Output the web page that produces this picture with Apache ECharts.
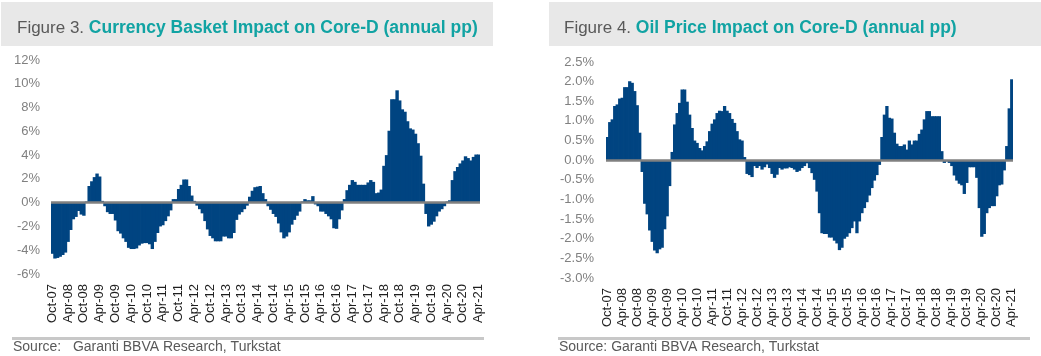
<!DOCTYPE html>
<html>
<head>
<meta charset="utf-8">
<script src="https://cdn.jsdelivr.net/npm/echarts@6/dist/echarts.min.js"></script>
<style>
html,body{margin:0;padding:0;background:#fff;}
#chart{width:1041px;height:356px;}
</style>
</head>
<body>
<div id="chart"></div>
<script>
// ---- Data ----
const startYear = 2007, startMonth = 9, monthCount = 163; // Oct-07 .. Apr-21
const monthNames = ['Jan','Feb','Mar','Apr','May','Jun','Jul','Aug','Sep','Oct','Nov','Dec'];
const categories = [];
for (let k = 0; k < monthCount; k++) {
  const m = (startMonth + k) % 12;
  const y = startYear + Math.floor((startMonth + k) / 12);
  categories.push(monthNames[m] + '-' + String(y % 100).padStart(2, '0'));
}

const currencyImpact = [
  -4.3,-4.7,-4.65,-4.55,-4.4,-4.2,-3.3,-2.3,-1.4,-1.2,
  -0.7,-1.0,-1.1,0.1,1.4,1.8,2.15,2.45,2.2,0.15,
  -0.3,-0.8,-0.95,-0.95,-1.5,-2.4,-2.6,-3.0,-3.3,-3.8,
  -3.9,-3.9,-3.85,-3.6,-3.45,-3.4,-3.4,-3.5,-3.9,-3.3,
  -2.55,-2.0,-1.9,-1.55,-1.15,-0.65,0.3,0.3,1.15,1.5,
  1.95,1.95,1.4,0.6,0.15,-0.25,-0.55,-0.9,-1.55,-2.25,
  -2.8,-3.0,-3.25,-3.25,-3.25,-2.85,-2.85,-3.0,-3.0,-2.55,
  -1.45,-1.0,-0.8,-0.55,-0.25,0.5,1.0,1.3,1.35,1.4,
  0.8,0.3,-0.3,-0.6,-0.95,-1.2,-1.75,-2.5,-3.0,-2.85,
  -2.5,-1.85,-1.45,-1.1,-0.75,0.1,0.3,0.2,0.2,0.55,
  -0.15,-0.3,-0.75,-0.75,-0.95,-1.15,-1.4,-2.15,-2.2,-1.4,
  -0.65,0.3,1.05,1.5,1.9,1.75,1.5,1.5,1.5,1.5,
  1.7,1.9,1.75,0.8,0.85,1.1,3.1,4.0,6.05,8.7,
  8.7,9.45,8.6,7.85,7.65,6.85,6.25,6.15,5.8,5.0,
  3.95,1.6,-0.95,-2.0,-1.85,-1.6,-1.15,-0.75,-0.55,-0.3,
  0.1,0.2,1.9,2.65,3.0,3.3,3.55,3.9,3.75,3.55,
  3.85,4.05,4.05
];

const oilImpact = [
  0.59,0.97,1.04,1.38,1.42,1.57,1.59,1.86,1.86,2.01,
  1.97,1.76,1.40,0.70,-0.30,-1.11,-1.38,-1.79,-2.08,-2.30,
  -2.37,-2.27,-2.23,-1.76,-1.43,-0.66,0.21,0.91,1.2,1.46,
  1.80,1.80,1.49,1.16,0.82,0.50,0.44,0.31,0.25,0.36,
  0.48,0.74,0.93,1.04,1.2,1.26,1.25,1.38,1.26,1.2,
  1.05,0.95,0.74,0.53,0.5,0.08,-0.35,-0.38,-0.43,-0.15,
  -0.2,-0.15,-0.24,-0.18,-0.11,-0.2,-0.35,-0.45,-0.37,-0.2,
  -0.24,-0.21,-0.21,-0.18,-0.2,-0.24,-0.3,-0.27,-0.2,-0.15,
  -0.08,-0.2,-0.33,-0.5,-0.8,-1.35,-1.86,-1.88,-1.88,-1.97,
  -1.97,-2.05,-2.12,-2.29,-2.23,-2.0,-1.95,-1.86,-1.73,-1.56,
  -1.86,-1.56,-1.35,-1.22,-1.07,-0.9,-0.71,-0.52,-0.38,-0.12,
  0.59,1.16,1.38,1.08,1.06,0.7,0.42,0.36,0.36,0.4,
  0.27,0.5,0.4,0.5,0.5,0.67,0.78,1.04,1.25,1.25,
  1.12,1.12,1.12,1.12,0.23,-0.07,-0.03,-0.07,-0.15,-0.39,
  -0.52,-0.6,-0.64,-0.86,-0.58,-0.18,-0.18,-0.18,-0.45,-1.22,
  -1.95,-1.88,-1.35,-1.22,-1.17,-1.17,-0.92,-0.64,-0.62,-0.26,
  0.36,1.32,2.06
];

const leftTitlePrefix = 'Figure 3. ';
const leftTitle = 'Currency Basket Impact on Core-D (annual pp)';
const rightTitlePrefix = 'Figure 4. ';
const rightTitle = 'Oil Price Impact on Core-D (annual pp)';
const leftSource = 'Source:   Garanti BBVA Research, Turkstat';
const rightSource = 'Source: Garanti BBVA Research, Turkstat';

// ---- Styles ----
const FONT = '"Liberation Sans", Arial, Helvetica, sans-serif';
const BAR = '#004481';
const TEAL = '#11A3A3';

function titleCfg(left, prefix, txt) {
  return {
    left: left, top: 13,
    text: '{a|' + prefix + '}{b|' + txt + '}',
    textStyle: {
      rich: {
        a: { fontFamily: FONT, fontSize: 17, color: '#595959', fontWeight: 'normal', lineHeight: 20 },
        b: { fontFamily: FONT, fontSize: 17.5, color: TEAL, fontWeight: 'bold', lineHeight: 20 }
      }
    }
  };
}

function xAxisCfg(gridIndex) {
  return {
    type: 'category', gridIndex: gridIndex, data: categories,
    position: 'bottom',
    axisLine: { show: false, onZero: false },
    axisTick: { show: false },
    splitLine: { show: false },
    axisLabel: {
      interval: 5, rotate: 90, margin: 10,
      fontFamily: FONT, fontSize: 13, color: '#1f1f1f'
    }
  };
}

function zeroLine() {
  return {
    silent: true, symbol: ['none', 'none'], animation: false,
    label: { show: false },
    lineStyle: { color: '#808080', width: 2.5, type: 'solid' },
    data: [{ yAxis: 0 }]
  };
}

const chart = echarts.init(document.getElementById('chart'), null, { renderer: 'canvas' });
chart.setOption({
  animation: false,
  backgroundColor: '#ffffff',
  title: [
    titleCfg(12, leftTitlePrefix, leftTitle),
    titleCfg(559, rightTitlePrefix, rightTitle)
  ],
  graphic: [
    { type: 'rect', z: -10, shape: { x: 1, y: 2, width: 492, height: 44 }, style: { fill: '#E8E8E8' } },
    { type: 'rect', z: -10, shape: { x: 549, y: 2, width: 492, height: 44 }, style: { fill: '#E8E8E8' } },
    { type: 'rect', z: -10, shape: { x: 12, y: 337, width: 472, height: 3 }, style: { fill: '#C8C8C8' } },
    { type: 'rect', z: -10, shape: { x: 558, y: 337, width: 472, height: 3 }, style: { fill: '#C8C8C8' } },
    { type: 'text', x: 13, y: 347, style: { text: leftSource, fontFamily: FONT, fontSize: 14, fill: '#595959', textVerticalAlign: 'middle' } },
    { type: 'text', x: 559, y: 347, style: { text: rightSource, fontFamily: FONT, fontSize: 14, fill: '#595959', textVerticalAlign: 'middle' } }
  ],
  grid: [
    { left: 51, top: 60, width: 429, height: 214 },
    { left: 606, top: 62, width: 407, height: 216 }
  ],
  xAxis: [xAxisCfg(0), xAxisCfg(1)],
  yAxis: [
    {
      type: 'value', gridIndex: 0, min: -6, max: 12, interval: 2,
      axisLine: { show: false }, axisTick: { show: false }, splitLine: { show: false },
      axisLabel: { margin: 11, fontFamily: FONT, fontSize: 13, color: '#808080', formatter: v => v + '%' }
    },
    {
      type: 'value', gridIndex: 1, min: -3, max: 2.5, interval: 0.5,
      axisLine: { show: false }, axisTick: { show: false }, splitLine: { show: false },
      axisLabel: { margin: 12, fontFamily: FONT, fontSize: 13, color: '#808080', formatter: v => v.toFixed(1) + '%' }
    }
  ],
  series: [
    {
      type: 'bar', xAxisIndex: 0, yAxisIndex: 0, data: currencyImpact,
      barWidth: 3.4,
      itemStyle: { color: BAR },
      markLine: zeroLine()
    },
    {
      type: 'bar', xAxisIndex: 1, yAxisIndex: 1, data: oilImpact,
      barWidth: 3.3,
      itemStyle: { color: BAR },
      markLine: zeroLine()
    }
  ]
});
</script>
</body>
</html>
